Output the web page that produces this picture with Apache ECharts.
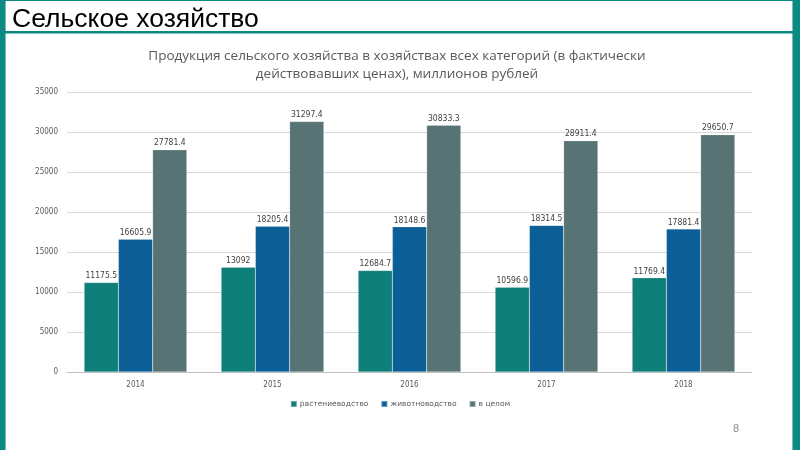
<!DOCTYPE html>
<html>
<head>
<meta charset="utf-8">
<script src="https://cdn.jsdelivr.net/npm/echarts@6/dist/echarts.min.js"></script>
<style>
html,body{margin:0;padding:0;background:#fff;}
#c{width:800px;height:450px;}
</style>
</head>
<body>
<div id="c"></div>
<script>
var categories = ['2014', '2015', '2016', '2017', '2018'];
var seriesNames = ['растениеводство', 'животноводство', 'в целом'];
var cropValues = [11175.5, 13092, 12684.7, 10596.9, 11769.4];
var livestockValues = [16605.9, 18205.4, 18148.6, 18314.5, 17881.4];
var totalValues = [27781.4, 31297.4, 30833.3, 28911.4, 29650.7];
var colors = ['#0e7f78', '#0b5f96', '#587373'];

var chart = echarts.init(document.getElementById('c'), null, {renderer: 'canvas'});
function mkSeries(name, data, color) {
  return {
    name: name,
    type: 'bar',
    data: data,
    barGap: '0%',
    barCategoryGap: '25%',
    itemStyle: {color: color, borderColor: 'rgba(255,255,255,0.35)', borderWidth: 0.5},
    label: {
      show: true, position: 'top', distance: 2,
      fontSize: 8.5, color: '#404040', fontFamily: 'DejaVu Sans Condensed, Open Sans'
    }
  };
}
chart.setOption({
  animation: false,
  color: colors,
  title: [
    {
      text: 'Сельское хозяйство', left: 7, top: 1,
      textStyle: {fontFamily: 'Liberation Sans, Arial', fontSize: 26.5, fontWeight: 'normal', color: '#000'}
    },
    {
      text: 'Продукция сельского хозяйства в хозяйствах всех категорий (в фактически\nдействовавших ценах), миллионов рублей',
      left: 392, top: 42, textAlign: 'center',
      textStyle: {fontFamily: 'Open Sans', fontSize: 13.5, fontWeight: 'normal', color: '#595959', lineHeight: 18}
    }
  ],
  graphic: [
    {type: 'rect', shape: {x: 0, y: 0, width: 5, height: 450}, style: {fill: '#0a8a80'}},
    {type: 'rect', shape: {x: 5, y: 0, width: 1, height: 450}, style: {fill: '#7cbdb7'}},
    {type: 'rect', shape: {x: 793, y: 0, width: 7, height: 450}, style: {fill: '#0a8a80'}},
    {type: 'rect', shape: {x: 792, y: 0, width: 1, height: 450}, style: {fill: '#7cbdb7'}},
    {type: 'rect', shape: {x: 0, y: 0, width: 800, height: 1}, style: {fill: '#0a8a80'}},
    {type: 'rect', shape: {x: 0, y: 31, width: 800, height: 2.5}, style: {fill: '#0a8a80'}},
    {type: 'text', left: 733, top: 423, style: {text: '8', fontSize: 11, fill: '#8c8c8c', fontFamily: 'Liberation Sans'}}
  ],
  legend: {
    data: seriesNames,
    bottom: 37,
    left: 'center',
    itemWidth: 6, itemHeight: 6, itemGap: 12,
    icon: 'rect',
    textStyle: {fontSize: 7.5, color: '#595959', fontFamily: 'DejaVu Sans', padding: [0, 0, 0, -2]}
  },
  grid: {left: 67, right: 48, top: 92, bottom: 78},
  xAxis: {
    type: 'category',
    data: categories,
    axisLine: {lineStyle: {color: '#bfbfbf', width: 1}},
    axisTick: {show: false},
    axisLabel: {fontSize: 8, color: '#595959', margin: 9, fontFamily: 'DejaVu Sans Condensed'}
  },
  yAxis: {
    type: 'value',
    min: 0, max: 35000, interval: 5000,
    axisLine: {show: false},
    axisTick: {show: false},
    splitLine: {lineStyle: {color: '#d9d9d9', width: 1}},
    axisLabel: {fontSize: 8, color: '#595959', margin: 9, fontFamily: 'DejaVu Sans Condensed',
      formatter: function (v) { return String(v); }}
  },
  series: [
    mkSeries(seriesNames[0], cropValues, colors[0]),
    mkSeries(seriesNames[1], livestockValues, colors[1]),
    mkSeries(seriesNames[2], totalValues, colors[2])
  ]
});
</script>
</body>
</html>
